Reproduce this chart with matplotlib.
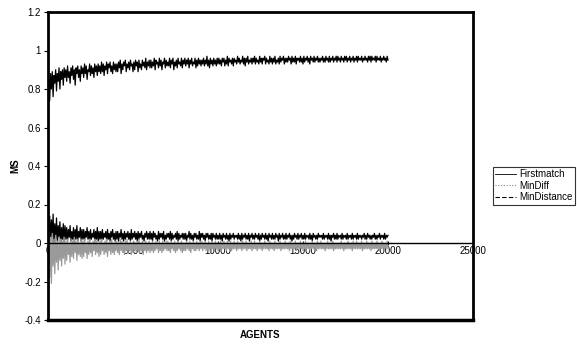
import matplotlib
matplotlib.use("Agg")
import matplotlib.pyplot as plt
from matplotlib.lines import Line2D

plt.rcParams['font.family'] = ['Liberation Sans', 'DejaVu Sans']

agents = [1] + list(range(50, 20001, 50))

firstmatch = [0.60] + [
    0.85, 0.74, 0.88, 0.80, 0.89, 0.76, 0.87, 0.83, 0.90, 0.79, 0.88, 0.84, 0.91, 0.80, 0.89, 0.85, 0.90, 0.82, 0.91, 0.86,
    0.90, 0.84, 0.92, 0.86, 0.89, 0.83, 0.91, 0.87, 0.92, 0.85, 0.90, 0.82, 0.91, 0.88, 0.92, 0.86, 0.90, 0.84, 0.92, 0.88,
    0.91, 0.86, 0.93, 0.88, 0.92, 0.85, 0.90, 0.89, 0.93, 0.87, 0.92, 0.88, 0.91, 0.86, 0.93, 0.89, 0.92, 0.87, 0.93, 0.89,
    0.92, 0.88, 0.94, 0.89, 0.93, 0.87, 0.92, 0.90, 0.94, 0.88, 0.93, 0.91, 0.94, 0.89, 0.92, 0.88, 0.94, 0.90, 0.93, 0.89,
    0.93, 0.89, 0.94, 0.91, 0.95, 0.88, 0.93, 0.90, 0.94, 0.92, 0.95, 0.89, 0.93, 0.91, 0.94, 0.90, 0.95, 0.92, 0.93, 0.89,
    0.94, 0.90, 0.95, 0.92, 0.94, 0.89, 0.95, 0.91, 0.93, 0.90, 0.95, 0.92, 0.94, 0.91, 0.96, 0.90, 0.94, 0.92, 0.95, 0.91,
    0.95, 0.91, 0.94, 0.92, 0.96, 0.90, 0.95, 0.93, 0.94, 0.91, 0.96, 0.92, 0.95, 0.90, 0.94, 0.93, 0.96, 0.91, 0.95, 0.92,
    0.94, 0.92, 0.96, 0.91, 0.95, 0.93, 0.96, 0.90, 0.94, 0.92, 0.95, 0.91, 0.96, 0.93, 0.94, 0.92, 0.96, 0.91, 0.95, 0.93,
    0.96, 0.92, 0.95, 0.93, 0.96, 0.91, 0.95, 0.93, 0.96, 0.92, 0.94, 0.93, 0.96, 0.91, 0.95, 0.92, 0.96, 0.93, 0.95, 0.92,
    0.95, 0.93, 0.96, 0.92, 0.95, 0.93, 0.97, 0.92, 0.95, 0.91, 0.96, 0.93, 0.95, 0.92, 0.96, 0.93, 0.95, 0.92, 0.96, 0.93,
    0.96, 0.93, 0.95, 0.92, 0.96, 0.94, 0.96, 0.92, 0.95, 0.93, 0.97, 0.92, 0.96, 0.94, 0.95, 0.93, 0.96, 0.92, 0.96, 0.94,
    0.95, 0.93, 0.97, 0.94, 0.96, 0.93, 0.95, 0.94, 0.97, 0.93, 0.96, 0.92, 0.96, 0.94, 0.97, 0.93, 0.95, 0.94, 0.96, 0.93,
    0.96, 0.94, 0.97, 0.93, 0.96, 0.94, 0.95, 0.93, 0.97, 0.94, 0.96, 0.93, 0.96, 0.95, 0.97, 0.93, 0.96, 0.94, 0.95, 0.93,
    0.97, 0.94, 0.96, 0.93, 0.96, 0.94, 0.97, 0.93, 0.95, 0.94, 0.96, 0.93, 0.97, 0.94, 0.96, 0.95, 0.97, 0.93, 0.96, 0.94,
    0.96, 0.94, 0.97, 0.95, 0.96, 0.93, 0.97, 0.94, 0.96, 0.94, 0.97, 0.93, 0.96, 0.95, 0.96, 0.94, 0.97, 0.94, 0.96, 0.93,
    0.97, 0.94, 0.96, 0.95, 0.97, 0.94, 0.96, 0.93, 0.97, 0.95, 0.96, 0.94, 0.97, 0.94, 0.96, 0.95, 0.97, 0.94, 0.96, 0.94,
    0.96, 0.95, 0.97, 0.94, 0.96, 0.94, 0.97, 0.95, 0.96, 0.94, 0.97, 0.94, 0.96, 0.95, 0.97, 0.94, 0.96, 0.95, 0.97, 0.94,
    0.97, 0.95, 0.96, 0.94, 0.97, 0.95, 0.96, 0.94, 0.97, 0.95, 0.97, 0.94, 0.96, 0.95, 0.97, 0.94, 0.96, 0.95, 0.97, 0.94,
    0.96, 0.95, 0.97, 0.94, 0.97, 0.95, 0.96, 0.95, 0.97, 0.94, 0.96, 0.95, 0.97, 0.95, 0.96, 0.94, 0.97, 0.95, 0.97, 0.94,
    0.97, 0.95, 0.96, 0.95, 0.97, 0.94, 0.97, 0.95, 0.96, 0.95, 0.97, 0.94, 0.96, 0.95, 0.97, 0.95, 0.96, 0.94, 0.97, 0.95,
]

min_distance = [0.16] + [
    0.02, 0.14, 0.01, 0.12, 0.03, 0.15, 0.00, 0.10, 0.02, 0.13, 0.01, 0.09, 0.03, 0.11, 0.00, 0.08, 0.02, 0.10, 0.01, 0.09,
    0.02, 0.08, 0.01, 0.07, 0.03, 0.09, 0.01, 0.06, 0.02, 0.08, 0.00, 0.07, 0.02, 0.09, 0.01, 0.06, 0.03, 0.08, 0.01, 0.07,
    0.02, 0.07, 0.01, 0.06, 0.03, 0.08, 0.02, 0.06, 0.01, 0.07, 0.02, 0.05, 0.03, 0.07, 0.01, 0.06, 0.02, 0.08, 0.01, 0.06,
    0.02, 0.06, 0.01, 0.07, 0.02, 0.05, 0.03, 0.06, 0.01, 0.07, 0.02, 0.05, 0.01, 0.06, 0.03, 0.07, 0.02, 0.05, 0.01, 0.06,
    0.02, 0.06, 0.01, 0.05, 0.03, 0.07, 0.02, 0.05, 0.01, 0.06, 0.02, 0.05, 0.03, 0.06, 0.02, 0.05, 0.01, 0.07, 0.02, 0.05,
    0.03, 0.06, 0.02, 0.05, 0.01, 0.06, 0.02, 0.05, 0.03, 0.06, 0.02, 0.04, 0.01, 0.05, 0.03, 0.06, 0.02, 0.05, 0.02, 0.06,
    0.02, 0.05, 0.01, 0.06, 0.03, 0.05, 0.02, 0.04, 0.01, 0.06, 0.02, 0.05, 0.03, 0.05, 0.02, 0.06, 0.01, 0.04, 0.02, 0.05,
    0.03, 0.05, 0.02, 0.06, 0.01, 0.05, 0.02, 0.04, 0.03, 0.05, 0.02, 0.06, 0.01, 0.05, 0.02, 0.04, 0.03, 0.05, 0.02, 0.05,
    0.02, 0.05, 0.01, 0.04, 0.03, 0.06, 0.02, 0.05, 0.02, 0.04, 0.01, 0.05, 0.03, 0.05, 0.02, 0.04, 0.02, 0.06, 0.01, 0.05,
    0.03, 0.05, 0.02, 0.04, 0.01, 0.05, 0.03, 0.05, 0.02, 0.04, 0.02, 0.05, 0.01, 0.05, 0.03, 0.04, 0.02, 0.05, 0.02, 0.04,
    0.02, 0.05, 0.02, 0.04, 0.01, 0.05, 0.03, 0.04, 0.02, 0.05, 0.02, 0.04, 0.01, 0.05, 0.02, 0.04, 0.03, 0.05, 0.02, 0.04,
    0.03, 0.04, 0.02, 0.05, 0.02, 0.04, 0.01, 0.05, 0.02, 0.04, 0.03, 0.05, 0.02, 0.04, 0.02, 0.05, 0.01, 0.04, 0.03, 0.05,
    0.02, 0.04, 0.02, 0.05, 0.03, 0.04, 0.02, 0.05, 0.01, 0.04, 0.02, 0.05, 0.03, 0.04, 0.02, 0.05, 0.02, 0.04, 0.01, 0.05,
    0.03, 0.04, 0.02, 0.05, 0.02, 0.04, 0.02, 0.05, 0.03, 0.04, 0.01, 0.05, 0.02, 0.04, 0.03, 0.05, 0.02, 0.04, 0.02, 0.05,
    0.02, 0.04, 0.03, 0.05, 0.02, 0.04, 0.01, 0.04, 0.02, 0.05, 0.03, 0.04, 0.02, 0.05, 0.02, 0.04, 0.03, 0.05, 0.02, 0.04,
    0.02, 0.05, 0.02, 0.04, 0.03, 0.04, 0.02, 0.05, 0.02, 0.04, 0.01, 0.05, 0.03, 0.04, 0.02, 0.04, 0.02, 0.05, 0.03, 0.04,
    0.03, 0.04, 0.02, 0.05, 0.02, 0.04, 0.03, 0.04, 0.02, 0.05, 0.02, 0.04, 0.01, 0.04, 0.03, 0.05, 0.02, 0.04, 0.02, 0.05,
    0.02, 0.04, 0.03, 0.04, 0.02, 0.05, 0.02, 0.04, 0.03, 0.04, 0.02, 0.05, 0.02, 0.04, 0.03, 0.04, 0.02, 0.05, 0.02, 0.04,
    0.03, 0.04, 0.02, 0.05, 0.02, 0.04, 0.03, 0.04, 0.02, 0.04, 0.03, 0.05, 0.02, 0.04, 0.02, 0.05, 0.03, 0.04, 0.02, 0.04,
    0.02, 0.04, 0.03, 0.05, 0.02, 0.04, 0.02, 0.04, 0.03, 0.05, 0.02, 0.04, 0.03, 0.04, 0.02, 0.05, 0.02, 0.04, 0.03, 0.04,
]

min_diff = [-0.05] + [
    0.06, -0.18, 0.03, -0.21, 0.05, -0.12, 0.02, -0.16, 0.04, -0.10, 0.01, -0.14, 0.03, -0.09, 0.02, -0.12, 0.01, -0.08, 0.03, -0.11,
    0.01, -0.09, 0.02, -0.06, 0.00, -0.10, 0.02, -0.07, 0.01, -0.08, 0.03, -0.05, 0.01, -0.09, 0.02, -0.06, 0.00, -0.07, 0.02, -0.08,
    0.01, -0.07, 0.02, -0.05, 0.00, -0.08, 0.01, -0.06, 0.02, -0.05, 0.00, -0.07, 0.01, -0.04, 0.02, -0.06, 0.01, -0.05, 0.00, -0.07,
    0.01, -0.06, 0.02, -0.04, 0.00, -0.06, 0.01, -0.05, 0.02, -0.07, 0.00, -0.04, 0.01, -0.06, 0.02, -0.05, 0.00, -0.06, 0.01, -0.04,
    0.01, -0.05, 0.00, -0.06, 0.02, -0.04, 0.01, -0.05, 0.00, -0.06, 0.01, -0.04, 0.02, -0.05, 0.00, -0.04, 0.01, -0.06, 0.00, -0.05,
    0.01, -0.04, 0.00, -0.05, 0.01, -0.04, 0.02, -0.05, 0.00, -0.04, 0.01, -0.06, 0.00, -0.04, 0.01, -0.05, 0.00, -0.04, 0.01, -0.05,
    0.00, -0.04, 0.01, -0.05, 0.00, -0.04, 0.01, -0.03, 0.00, -0.05, 0.01, -0.04, 0.00, -0.05, 0.01, -0.04, 0.00, -0.03, 0.01, -0.04,
    0.01, -0.04, 0.00, -0.05, 0.01, -0.03, 0.00, -0.04, 0.01, -0.05, 0.00, -0.04, 0.01, -0.03, 0.00, -0.04, 0.01, -0.05, 0.00, -0.04,
    0.00, -0.04, 0.01, -0.03, 0.00, -0.04, 0.01, -0.05, 0.00, -0.03, 0.01, -0.04, 0.00, -0.04, 0.01, -0.03, 0.00, -0.04, 0.01, -0.03,
    0.01, -0.04, 0.00, -0.03, 0.01, -0.04, 0.00, -0.04, 0.01, -0.03, 0.00, -0.05, 0.01, -0.03, 0.00, -0.04, 0.01, -0.03, 0.00, -0.04,
    0.00, -0.03, 0.01, -0.04, 0.00, -0.03, 0.01, -0.03, 0.00, -0.04, 0.01, -0.03, 0.00, -0.03, 0.01, -0.04, 0.00, -0.03, 0.01, -0.03,
    0.00, -0.04, 0.01, -0.03, 0.00, -0.03, 0.00, -0.04, 0.01, -0.03, 0.00, -0.03, 0.01, -0.04, 0.00, -0.03, 0.00, -0.03, 0.01, -0.04,
    0.00, -0.03, 0.01, -0.03, 0.00, -0.04, 0.00, -0.03, 0.01, -0.03, 0.00, -0.04, 0.00, -0.03, 0.01, -0.03, 0.00, -0.03, 0.00, -0.04,
    0.01, -0.03, 0.00, -0.03, 0.00, -0.04, 0.01, -0.03, 0.00, -0.03, 0.00, -0.03, 0.01, -0.04, 0.00, -0.03, 0.00, -0.03, 0.01, -0.03,
    0.00, -0.03, 0.00, -0.04, 0.01, -0.03, 0.00, -0.03, 0.00, -0.03, 0.01, -0.04, 0.00, -0.03, 0.00, -0.03, 0.01, -0.03, 0.00, -0.04,
    0.00, -0.03, 0.01, -0.03, 0.00, -0.03, 0.00, -0.04, 0.00, -0.03, 0.01, -0.03, 0.00, -0.03, 0.00, -0.04, 0.01, -0.03, 0.00, -0.03,
    0.01, -0.03, 0.00, -0.03, 0.00, -0.04, 0.00, -0.03, 0.01, -0.03, 0.00, -0.03, 0.00, -0.03, 0.01, -0.04, 0.00, -0.03, 0.00, -0.03,
    0.00, -0.03, 0.00, -0.03, 0.01, -0.03, 0.00, -0.04, 0.00, -0.03, 0.00, -0.03, 0.01, -0.03, 0.00, -0.03, 0.00, -0.04, 0.01, -0.03,
    0.00, -0.03, 0.01, -0.03, 0.00, -0.03, 0.00, -0.03, 0.01, -0.04, 0.00, -0.03, 0.00, -0.03, 0.01, -0.03, 0.00, -0.03, 0.00, -0.04,
    0.01, -0.03, 0.00, -0.03, 0.00, -0.03, 0.01, -0.03, 0.00, -0.04, 0.00, -0.03, 0.01, -0.03, 0.00, -0.03, 0.00, -0.03, 0.01, -0.03,
]

series_names = ["Firstmatch", "MinDiff", "MinDistance"]
x_ticks = [0, 5000, 10000, 15000, 20000, 25000]
x_tick_labels = ["0", "5000", "10000", "15000", "20000", "25000"]
y_ticks = [1.2, 1.0, 0.8, 0.6, 0.4, 0.2, 0.0, -0.2, -0.4]
y_tick_labels = ["1.2", "1", "0.8", "0.6", "0.4", "0.2", "0", "-0.2", "-0.4"]

# ---- figure ----
W, H = 577, 344
fig = plt.figure(figsize=(W / 100, H / 100), dpi=100)
ax = fig.add_axes([48 / W, 1 - 320 / H, (473 - 48) / W, (320 - 12) / H])

ax.plot(agents, firstmatch, color="black", lw=0.9)
ax.plot(agents, min_distance, color="black", lw=0.9)
ax.plot(agents, min_diff, color="#9a9a9a", lw=0.9)

ax.set_xlim(0, 25000)
ax.set_ylim(-0.4, 1.2)

for s in ["left", "right", "top"]:
    ax.spines[s].set_linewidth(2)
    ax.spines[s].set_color("black")
ax.spines["bottom"].set_position(("data", 0))
ax.spines["bottom"].set_linewidth(1)
ax.plot([0, 1], [0, 0], transform=ax.transAxes, color="black", lw=2.5,
        clip_on=False, solid_capstyle="projecting")

ax.set_xticks(x_ticks)
ax.set_xticklabels(x_tick_labels)
ax.set_yticks(y_ticks)
ax.set_yticklabels(y_tick_labels)
ax.tick_params(axis="x", direction="inout", length=3, width=0.8, labelsize=7, pad=1)
ax.tick_params(axis="y", direction="out", length=3, width=0.8, labelsize=7, pad=2)

fig.text(15 / W, 1 - 166 / H, "MS", rotation=90, ha="center", va="center",
         fontsize=7, fontweight="bold")
fig.text(260 / W, 1 - 335 / H, "AGENTS", ha="center", va="center",
         fontsize=7, fontweight="bold")

handles = [
    Line2D([], [], color="black", lw=0.6, ls="-"),
    Line2D([], [], color="#888888", lw=0.8, ls=(0, (1, 1.5))),
    Line2D([], [], color="black", lw=0.8, ls=(0, (4, 2))),
]
leg = fig.legend(handles, series_names, loc="upper left",
                 bbox_to_anchor=(493 / W, 1 - 167 / H), fontsize=7,
                 frameon=True, fancybox=False, edgecolor="black",
                 handlelength=2.1, handletextpad=0.3, labelspacing=0.15,
                 borderpad=0.25, borderaxespad=0)
leg.get_frame().set_linewidth(0.8)

fig.savefig("out.png", dpi=100)
